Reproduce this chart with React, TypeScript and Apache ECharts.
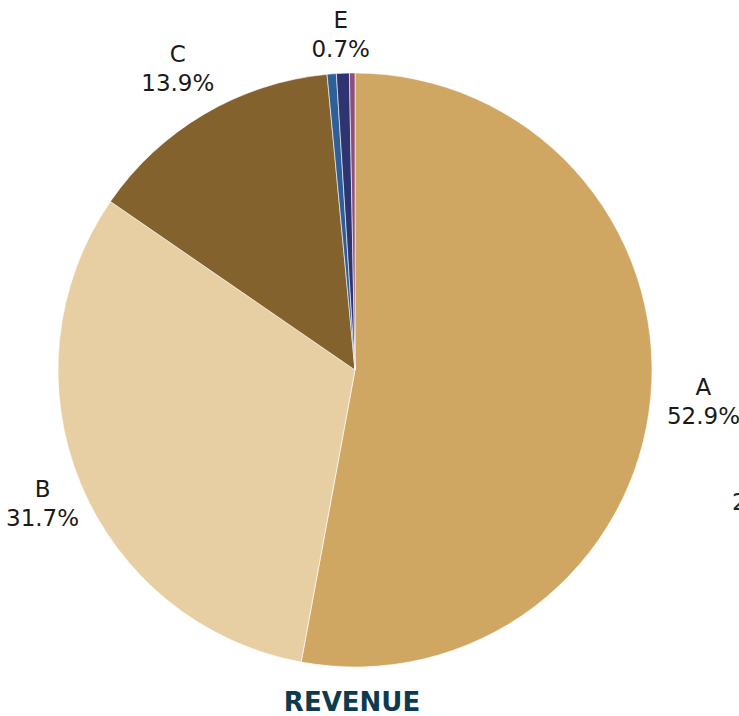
import React, { useEffect, useRef } from "react";
import * as echarts from "echarts";

const categories = ["A", "B", "C", "D", "E", "F"];
const values = [52.9, 31.7, 13.9, 0.5, 0.7, 0.3];
const colors = ["#D0A663", "#E8CFA3", "#84622E", "#2F5F98", "#2E3470", "#8B4F7A"];
const showLabel = [true, true, true, false, true, false];
const title = "REVENUE";

const W = 739;
const H = 716;

export default function App() {
  const ref = useRef<HTMLDivElement>(null);
  useEffect(() => {
    if (!ref.current) return;
    const chart = echarts.init(ref.current, null, { renderer: "svg" });
    const font = "DejaVu Sans";
    const base = categories.map((c, i) => ({
      name: c,
      value: values[i],
      itemStyle: { color: colors[i] },
    }));
    chart.setOption({
      animation: false,
      graphic: [
        {
          type: "text",
          x: 352,
          y: 702,
          style: {
            text: title,
            fontFamily: font,
            fontWeight: "bold",
            fontSize: 26,
            fill: "#0E3A4E",
            align: "center",
            verticalAlign: "middle",
          },
        },
        {
          type: "text",
          x: 732,
          y: 502,
          style: { text: "2", fontFamily: font, fontSize: 23, fill: "#222", verticalAlign: "middle" },
        },
      ],
      series: [
        {
          type: "pie",
          center: [355, 370],
          radius: [0, 297],
          startAngle: 90,
          clockwise: true,
          silent: true,
          label: { show: false },
          labelLine: { show: false },
          itemStyle: { borderColor: "#ffffff", borderWidth: 0.6 },
          data: base,
        },
        {
          type: "pie",
          center: [355, 370],
          radius: [332, 362],
          startAngle: 90,
          clockwise: true,
          silent: true,
          itemStyle: { color: "transparent" },
          labelLine: { show: false },
          label: {
            show: true,
            position: "inside",
            formatter: "{b}\n{c}%",
            fontFamily: font,
            fontSize: 23,
            lineHeight: 29,
            color: "#1a1a1a",
            align: "center",
          },
          labelLayout: (p: any) => {
            const r = p.labelRect;
            let cx = r.x + r.width / 2;
            let cy = r.y + r.height / 2;
            cx = Math.min(Math.max(cx, r.width / 2 + 6), W - r.width / 2 + 1);
            cy = Math.max(cy, r.height / 2 + 5);
            return { x: cx, y: cy, align: "center", verticalAlign: "middle" };
          },
          data: categories.map((c, i) => ({
            name: c,
            value: values[i],
            label: { show: showLabel[i] },
          })),
        },
      ],
    });
    return () => chart.dispose();
  }, []);
  return (
    <div
      ref={ref}
      style={{ position: "fixed", left: 0, top: 0, width: W, height: H, background: "#fff" }}
    />
  );
}
